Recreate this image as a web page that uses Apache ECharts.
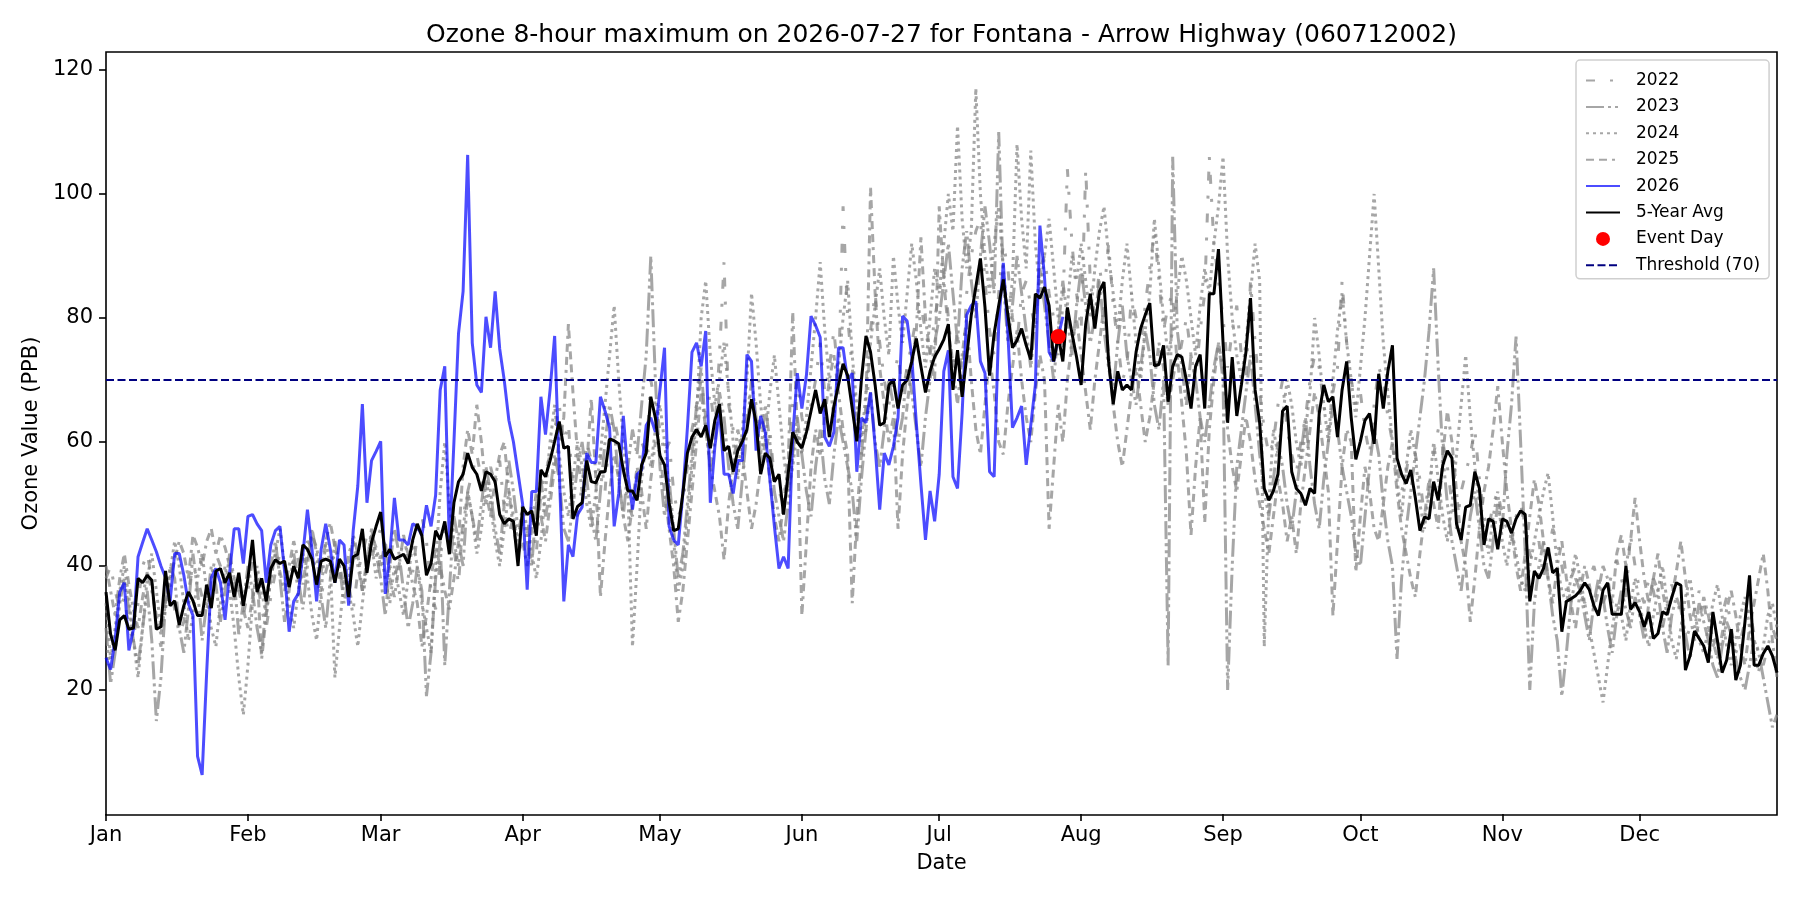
<!DOCTYPE html>
<html>
<head>
<meta charset="utf-8">
<script src="https://cdn.jsdelivr.net/npm/echarts@6/dist/echarts.min.js"></script>
<style>
html,body{margin:0;padding:0;background:#ffffff;}
#chart{width:1800px;height:900px;}
</style>
</head>
<body>
<div id="chart"></div>
<script>
// ---- Tick labels (day-of-year in a leap reference year) ----
const MONTH_LABELS = ['Jan','Feb','Mar','Apr','May','Jun','Jul','Aug','Sep','Oct','Nov','Dec'];
const MONTH_START_DAYS = [0,31,60,91,121,152,182,213,244,274,305,335];
const Y_TICKS = [20,40,60,80,100,120];
const DAY_MIN = 0;
const DAY_MAX = 365;

const THRESHOLD = 70;
const EVENT_DAY = 208;      // 2026-07-27
const EVENT_VALUE = 77;

// ---- Series values, one per day (index = day of year) ----
const YEAR_2022 = [
38,40,36,33,35,30,28,34,40,42,38,30,27,35,37,33,29,31,36,40,38,35,33,38,42,40,37,39,34,37,32,
36,41,38,33,30,35,39,42,40,37,41,36,40,44,43,38,35,39,42,41,38,40,37,33,39,42,45,41,44,
46,43,40,38,41,44,42,39,45,48,44,36,33,41,47,45,43,37,48,52,55,58,54,50,56,53,57,49,45,48,43,
47,45,50,42,52,55,58,62,66,60,63,52,48,53,60,57,55,58,52,62,64,60,56,50,48,54,60,58,70,66,
62,58,60,52,48,50,56,62,66,70,64,68,62,74,89,66,62,58,61,64,70,66,62,58,62,54,52,50,58,66,70,
64,60,66,70,76,68,72,78,70,98,80,72,64,58,62,78,84,76,70,66,70,74,68,72,76,80,82,78,74,80,
84,88,80,72,78,70,84,90,94,96,86,78,74,84,92,88,80,76,84,86,82,78,88,90,84,80,74,82,104,92,84,
78,104,86,80,88,84,92,82,76,70,72,84,80,76,82,88,94,86,78,82,84,72,76,80,74,70,78,84,106,92,86,
80,72,78,82,74,70,86,76,68,62,58,60,66,70,62,58,55,60,64,70,74,72,66,62,68,72,86,76,70,66,
68,62,58,66,72,70,64,60,56,52,55,60,58,54,48,52,58,62,60,56,50,46,52,55,58,62,54,48,46,50,52,
48,46,44,48,50,46,42,40,44,38,42,46,44,40,36,38,40,36,34,38,40,37,34,36,39,41,38,35,45,40,
36,34,38,36,32,30,34,37,35,32,28,30,33,36,34,30,27,29,32,35,30,26,28,31,33,29,26,24,27,30,28
];
const YEAR_2023 = [
30,21,26,34,38,33,28,24,30,36,28,15,22,34,40,38,30,26,33,42,36,28,34,40,37,31,36,42,38,29,34,
40,36,30,26,34,40,44,38,31,36,42,38,33,40,46,42,35,30,38,44,40,34,38,45,42,36,40,46,42,
38,32,40,46,42,36,30,34,40,36,19,26,38,44,24,36,48,44,40,52,48,44,50,56,52,46,42,50,57,52,46,
48,44,40,50,54,48,52,58,54,46,44,50,56,60,54,48,44,52,60,66,62,54,48,56,62,58,66,74,90,70,
56,48,54,46,38,42,50,58,66,72,62,56,60,68,64,56,50,46,54,62,70,64,58,66,60,52,48,44,50,58,64,
58,52,48,56,62,54,50,58,64,60,56,52,44,54,62,68,60,56,62,70,66,60,64,72,68,62,56,64,70,76,
80,86,92,84,76,88,94,86,80,90,98,92,84,110,86,76,82,90,84,78,72,80,88,82,76,70,78,86,80,74,82,
88,82,76,80,86,78,72,68,76,82,74,70,66,72,78,74,66,62,70,24,106,78,72,66,74,70,64,60,66,72,76,
70,20,40,56,62,68,74,66,58,52,48,54,60,56,50,46,52,58,64,56,50,46,54,60,66,62,56,52,48,42,
40,48,56,62,58,50,44,40,25,38,46,52,58,64,70,78,88,72,58,50,44,40,36,42,48,52,46,40,38,44,50,
46,58,66,77,60,42,20,34,40,44,38,32,28,19,26,34,38,36,32,28,34,38,35,30,26,32,36,33,30,35,
32,28,34,38,36,30,26,32,35,33,29,25,30,34,31,28,24,22,27,31,29,25,22,20,24,28,26,22,18,14,16
];
const YEAR_2024 = [
34,25,30,36,40,35,28,22,30,38,42,36,30,33,39,44,40,34,28,32,38,42,36,30,27,34,40,36,30,22,16,
24,34,40,36,32,38,42,46,40,34,30,36,42,38,32,28,36,44,40,22,30,38,36,32,27,34,40,44,38,
42,38,34,40,36,32,38,44,40,34,30,26,40,52,60,50,44,40,46,52,48,42,46,54,50,44,40,46,52,48,44,
50,46,42,38,44,52,60,66,58,52,48,54,60,56,50,46,52,58,66,74,82,70,60,52,27,40,54,60,56,62,
66,60,52,44,36,40,48,56,64,80,86,74,66,70,76,68,60,54,62,70,84,76,66,60,68,74,66,58,52,56,62,
58,64,72,80,89,78,70,64,72,80,86,74,66,60,68,76,82,88,80,74,90,82,76,84,92,86,78,72,80,88,
84,92,100,94,111,96,88,94,117,100,90,84,92,98,88,80,86,108,96,88,107,92,84,90,96,88,80,74,82,90,86,
92,86,80,88,94,98,90,84,78,86,92,84,76,70,78,84,96,88,80,74,78,84,90,86,80,74,82,88,84,92,98,
106,90,80,74,70,76,84,92,86,27,50,62,58,64,70,66,60,56,62,68,80,74,66,60,70,78,84,76,70,64,
72,80,90,100,88,76,68,60,54,48,56,62,58,50,46,52,60,54,48,44,50,58,66,74,64,56,50,46,42,48,52,
44,40,46,42,38,36,40,44,48,52,55,48,40,36,34,38,42,38,34,30,26,22,18,24,30,34,32,28,34,38,
34,30,27,32,36,40,34,28,25,30,35,38,33,28,26,30,34,37,32,27,24,28,32,35,30,26,23,27,32,34,30
];
const YEAR_2025 = [
40,36,32,38,42,37,33,30,35,39,36,32,29,34,38,41,44,42,38,45,43,40,44,46,42,45,43,40,38,36,33,
30,35,39,25,32,38,42,39,36,40,44,41,37,42,45,43,39,44,47,43,40,37,42,44,40,36,41,45,43,
40,44,38,35,40,45,41,37,34,27,32,38,43,40,36,33,38,44,56,62,58,66,60,52,48,54,58,60,52,46,42,
44,40,46,52,48,44,50,56,60,64,79,68,58,52,56,67,54,35,44,52,58,54,48,44,50,56,52,46,54,60,
58,52,46,40,31,36,44,52,60,68,62,56,52,48,41,50,56,62,58,52,46,50,56,60,54,48,44,50,56,81,62,
32,44,56,62,58,64,70,74,68,62,58,34,48,58,66,101,84,72,66,60,64,46,58,66,72,78,93,80,74,70,
98,86,78,72,66,74,80,70,62,58,66,74,68,60,58,66,72,78,70,64,60,68,74,70,46,56,66,60,70,76,80,
74,68,62,70,76,82,74,66,60,56,62,68,72,66,60,64,70,76,72,66,70,74,66,58,45,56,64,47,62,70,76,
72,62,56,52,58,64,60,54,50,46,42,48,54,50,44,48,42,50,56,62,68,64,58,52,32,44,56,62,60,39,
48,56,52,46,44,50,56,60,52,46,42,38,35,42,48,54,50,46,58,65,60,52,44,40,31,38,46,52,56,62,69,
60,52,46,40,36,42,48,54,50,44,38,34,40,44,38,34,30,36,40,37,33,36,40,38,34,42,45,40,44,51,
44,38,34,38,42,36,32,35,39,44,38,32,28,31,35,32,28,25,29,33,36,32,27,24,30,34,38,42,36,28,22
];
const YEAR_2026 = [
25.2,23.3,28.3,35.8,37.3,26.4,29.8,41.5,43.8,46,44.2,42.3,40,38.1,34.3,42,42,38.5,33.9,32,9.3,6.3,23,38.1,39.6,37.3,31.3,38.9,46,46,40.4,48,
48.3,46.8,45.7,37.3,43.4,45.7,46.4,39.2,29.4,34.3,35.5,41.9,49.1,42.7,34.3,42.7,46.8,42.7,37.3,44.2,43.4,33.6,45.7,52.9,66.1,50.2,57,58.5,60.1,
35.5,41.9,51,44.2,44.2,43.4,46.8,46.4,44.9,49.8,46.4,51.4,68.4,72.2,43.4,60,77.5,84.3,106.3,76,69.2,68,80.2,75.2,84.3,75,69.9,63.5,60,55,50,36.2,
52,52,67.3,61.2,68.4,77.1,55.5,34.3,43.4,41.5,48.3,49.5,58.2,56.7,56.7,67.3,65,62.3,46.4,51.7,64.2,54.8,49.1,54.8,55.5,62.7,
63.9,61.6,68.4,75.2,46.4,44.2,43.4,51.7,62.3,74.5,76,72.2,77.9,50.2,59.3,65.4,54.8,54.8,51.7,57,57,74.1,73,58.6,64.2,61.6,54,46.4,39.6,41.5,39.6,60.8,71.1,65.4,
70.8,80.3,78.8,76.9,60.8,59.3,61.6,75.2,75.2,69.9,71.1,55.2,63.9,63.1,68,59.3,49.1,58.2,56.3,59.3,63.9,80.3,79.5,73.7,63.1,53.3,44.2,52.1,47.2,54.8,
71.4,74.8,54.4,52.5,64.6,80.5,82,82.7,73,71.1,55.2,54.4,79,88.9,77.5,62.3,63.9,65.8,56.3,62.7,69.2,94.9,86.6,74.5,73,77,80.2
];
const FIVE_YEAR_AVG = [
35.8,29,26.4,31.3,32,29.8,30,38,37.3,38.5,37.7,29.8,30.2,39.2,33.6,34.4,30.5,33.6,35.8,34.4,32,32,37,33.2,39.2,39.6,37.3,38.9,35,38.9,33.6,
38,44.2,35.8,38,34.3,39.6,41,40.4,40.8,36.6,40,38,43.4,42.7,41.1,37,40.8,41.1,40.8,37.3,41.1,40,35,41.5,41.9,46,38.9,43.8,46.4,48.7,
41.5,42.7,41.1,41.5,41.9,40.4,44.2,46.8,44.9,38.5,40.4,45.7,44.2,47.2,41.9,50.2,53.6,54.8,58.2,55.9,54.8,52.1,55.2,54.8,53.6,48.3,46.8,47.6,47.2,40,
49.5,48.3,48.9,44.9,55.5,54.4,57,60.1,63.3,59,59.3,47.6,49.6,50.2,57,53.6,53.4,55.2,55.2,60.5,60.2,59.7,55.5,52.1,52.1,50.6,56.3,58.2,67.3,
63.9,57.8,56.3,50.2,45.7,46,51.7,58.2,60.8,62,60.8,62.7,59,63.5,66.1,58.6,59.3,55.2,58.6,60.1,62,66.9,63.1,54.8,58.2,57.4,53.6,54.8,48.3,54.8,61.6,
60,59,61.6,65,68.4,64.6,66.9,60.8,65.8,69.2,72.6,70.7,65.4,60.1,70,77.1,74.5,69.2,62.7,63.1,69.2,70,65.4,69.2,70,73,76.7,72.2,68,
71.4,73.7,75,76.5,79,68.4,74.8,67.3,73.7,80.5,85,89.6,81.7,70.7,77.5,82,86.2,80.5,75.2,76.4,78.3,75.6,73.3,83.9,83.2,85,82,73,77.1,73,81.7,
77.5,73.7,69.2,79,83.9,78.3,84.3,85.8,73,66.1,71.4,68.4,69.2,68.4,74.5,78.3,80.5,82.4,72.3,72.5,75.6,66.5,72.2,74.1,73.7,69.9,65.4,72.2,74.1,65.4,83.9,83.9,91.1,
76,63.1,73.7,64.2,69.2,74.5,83.2,68.4,63.1,52.5,50.6,52.1,54.8,65,65.8,55.2,52.5,51.7,49.8,52.5,51.7,64.6,69.2,66.5,67.3,60.8,68.4,73,63.9,57.2,
60.1,63.5,64.6,59.7,71,65.4,71.4,75.6,57.4,54.8,53.3,55.5,51,45.7,47.9,47.6,53.6,50.6,56.3,58.6,57.4,46.8,44.2,49.5,49.8,55.2,52.5,43.4,47.6,47.2,42.7,
47.6,47.2,45.3,47.6,48.9,48.3,34.3,39.2,38,39.6,43,38.9,39.6,29.4,34.3,34.7,35.2,36,37.3,36.2,33.6,32,
36.1,37.3,32.2,32.2,32.2,40,33,34.1,32.6,30.2,32.6,28.3,29.1,32.6,32.2,34.9,37.3,36.9,23.2,25.5,29.5,28.3,27.1,24.4,32.6,27.9,22.8,24.8,29.8,21.6,24,31,38.5,24,24,25.9,27.1,25.5,22.8
];

// ---- build chart ----
const toXY = arr => arr.map((v, i) => [i, v]);
const FONT = 'DejaVu Sans';
const GREY = 'rgba(128,128,128,0.7)';
const NO_SYMBOL = { color: 'rgba(0,0,0,0)', borderWidth: 0, opacity: 0 };

function greyLine(name, arr, dash) {
  return {
    name: name, type: 'line', data: toXY(arr), symbol: 'none', z: 2,
    lineStyle: { color: GREY, width: 3, type: dash },
    itemStyle: { color: GREY },
    emphasis: { disabled: true }, silent: true
  };
}

const chart = echarts.init(document.getElementById('chart'), null, { renderer: 'canvas' });
chart.setOption({
  animation: false,
  backgroundColor: '#ffffff',
  title: {
    text: 'Ozone 8-hour maximum on 2026-07-27 for Fontana - Arrow Highway (060712002)',
    left: 936.5, top: 18, textAlign: 'center',
    textStyle: { fontFamily: FONT, fontSize: 25, fontWeight: 'normal', color: '#000' }
  },
  grid: {
    left: 106, right: 23, top: 52, bottom: 85,
    show: true, borderColor: '#000', borderWidth: 1.6, backgroundColor: 'transparent'
  },
  legend: {
    orient: 'vertical', left: 1576, top: 60,
    padding: [11.5, 9, 4.5, 9],
    itemWidth: 34, itemHeight: 14, itemGap: 8.4,
    backgroundColor: 'rgba(255,255,255,0.8)',
    borderColor: '#cfcfcf', borderWidth: 1.5, borderRadius: 4,
    textStyle: { fontFamily: FONT, fontSize: 17, color: '#000', lineHeight: 18, padding: [0, 0, 0, 11] },
    data: [
      { name: '2022', itemStyle: NO_SYMBOL },
      { name: '2023', itemStyle: NO_SYMBOL },
      { name: '2024', itemStyle: NO_SYMBOL },
      { name: '2025', itemStyle: NO_SYMBOL },
      { name: '2026', itemStyle: NO_SYMBOL },
      { name: '5-Year Avg', itemStyle: NO_SYMBOL },
      { name: 'Event Day', icon: 'circle', itemStyle: { color: '#ff0000', opacity: 1 } },
      { name: 'Threshold (70)', itemStyle: NO_SYMBOL }
    ]
  },
  xAxis: {
    type: 'value', min: DAY_MIN, max: DAY_MAX,
    name: 'Date', nameLocation: 'middle', nameGap: 38,
    nameTextStyle: { fontFamily: FONT, fontSize: 21, color: '#000' },
    axisLine: { show: false },
    splitLine: { show: false },
    axisTick: { show: true, inside: false, length: 7, customValues: MONTH_START_DAYS,
                lineStyle: { color: '#000', width: 1.6 } },
    axisLabel: { show: true, margin: 10, customValues: MONTH_START_DAYS,
                 fontFamily: FONT, fontSize: 21, color: '#000',
                 formatter: v => MONTH_LABELS[MONTH_START_DAYS.indexOf(Math.round(v))] || '' }
  },
  yAxis: {
    type: 'value', min: -0.16, max: 122.9,
    name: 'Ozone Value (PPB)', nameLocation: 'middle', nameGap: 63, nameRotate: 90,
    nameTextStyle: { fontFamily: FONT, fontSize: 21, color: '#000' },
    axisLine: { show: false },
    splitLine: { show: false },
    axisTick: { show: true, inside: false, length: 7, customValues: Y_TICKS,
                lineStyle: { color: '#000', width: 1.6 } },
    axisLabel: { show: true, margin: 13, customValues: Y_TICKS,
                 fontFamily: FONT, fontSize: 21, color: '#000' }
  },
  series: [
    greyLine('2022', YEAR_2022, [9, 15, 3, 15]),
    greyLine('2023', YEAR_2023, [18, 4, 3, 4, 3, 4]),
    greyLine('2024', YEAR_2024, [3, 4]),
    greyLine('2025', YEAR_2025, [8, 5, 8, 5, 3, 5]),
    {
      name: '2026', type: 'line', data: toXY(YEAR_2026), symbol: 'none', z: 3,
      lineStyle: { color: 'rgba(0,0,255,0.7)', width: 3 }, itemStyle: { color: 'rgba(0,0,255,0.7)' },
      silent: true
    },
    {
      name: '5-Year Avg', type: 'line', data: toXY(FIVE_YEAR_AVG), symbol: 'none', z: 4,
      lineStyle: { color: '#000', width: 3 }, itemStyle: { color: '#000' }, silent: true
    },
    {
      name: 'Event Day', type: 'scatter', data: [[EVENT_DAY, EVENT_VALUE]], z: 6,
      symbol: 'circle', symbolSize: 15, itemStyle: { color: '#ff0000', opacity: 1 }, silent: true
    },
    {
      name: 'Threshold (70)', type: 'line', data: [[DAY_MIN, THRESHOLD], [DAY_MAX, THRESHOLD]],
      symbol: 'none', z: 5,
      lineStyle: { color: '#000080', width: 2, type: [8, 3.5] }, itemStyle: { color: '#000080' },
      silent: true
    }
  ]
});
</script>
</body>
</html>
